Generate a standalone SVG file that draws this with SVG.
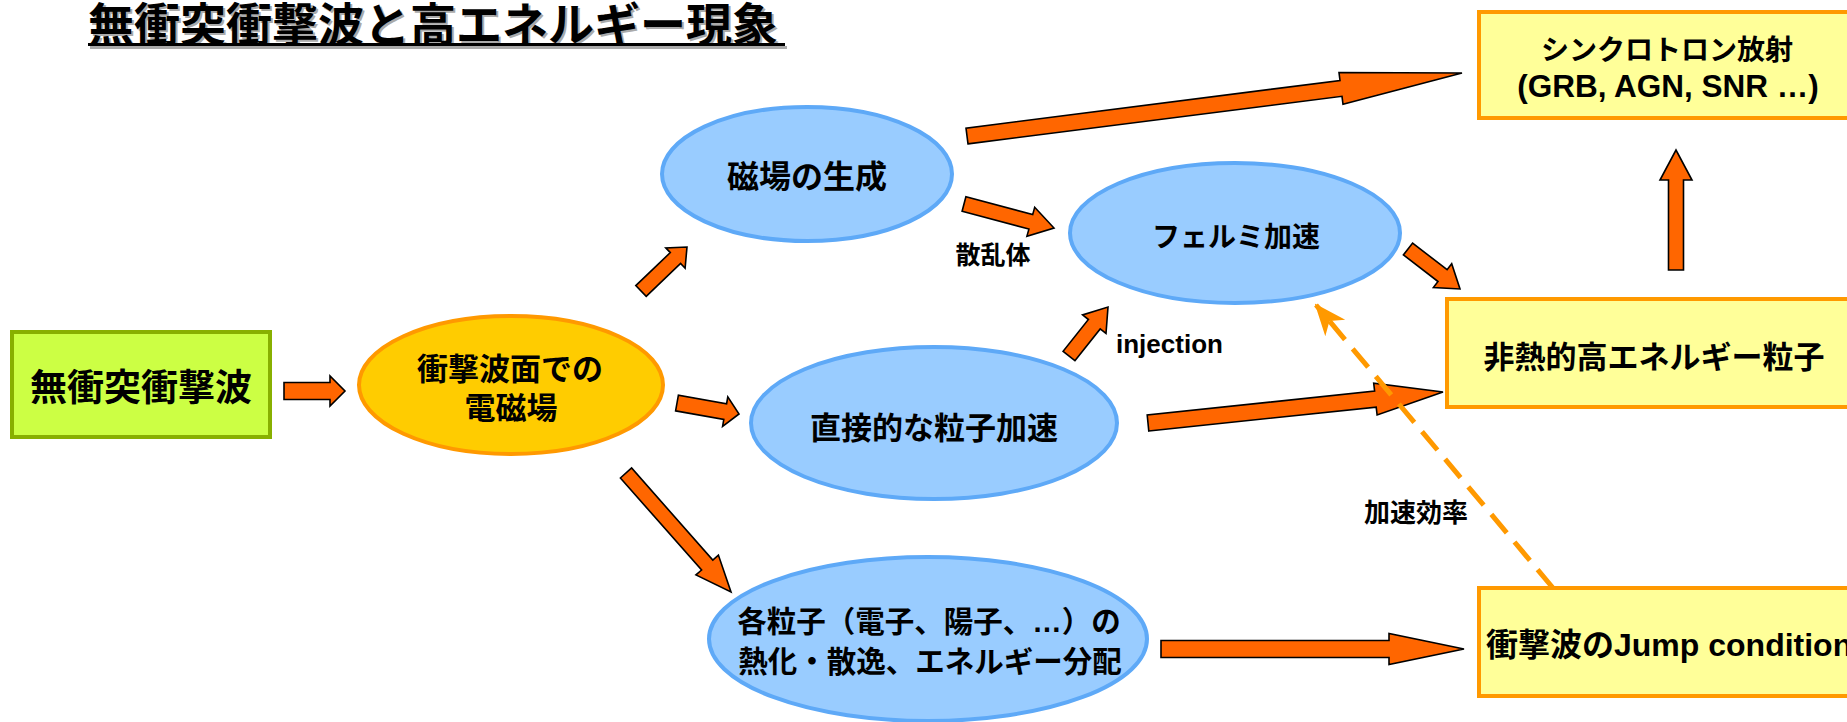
<svg xmlns="http://www.w3.org/2000/svg" width="1847" height="722" viewBox="0 0 1847 722">
<style>
.jp{font-family:"Noto Sans CJK JP","Noto Sans CJK SC",sans-serif;font-weight:bold;fill:#000}
.mx{font-family:"Liberation Sans","Noto Sans CJK JP",sans-serif;font-weight:bold;fill:#000}
.blue{fill:#99CCFF;stroke:#5EA9F7;stroke-width:4}
.ybox{fill:#FFFF99;stroke:#FF9900;stroke-width:4}
.arw{fill:#FF6600;stroke:#000;stroke-width:1.6;stroke-linejoin:miter}
.dash{fill:none;stroke:#FF9900;stroke-width:5;stroke-dasharray:24 12}
</style>
<defs>
<marker id="ah" viewBox="0 0 32 32" refX="30" refY="16" markerWidth="32" markerHeight="32" markerUnits="userSpaceOnUse" orient="auto">
<path d="M0,3 L32,16 L0,29 L9,16 Z" fill="#FF9900"/>
</marker>
</defs>
<rect width="1847" height="722" fill="#fff"/>

<g id="title">
<text x="90" y="43" class="jp" font-size="46" style="fill:#aaa">無衝突衝撃波と高エネルギー現象</text>
<text x="88" y="41" class="jp" font-size="46">無衝突衝撃波と高エネルギー現象</text>
<rect x="90" y="46" width="697" height="3" fill="#aaa"/>
<rect x="88" y="43" width="697" height="3" fill="#000"/>
</g>

<g id="connectors">
<polygon class="arw" points="284,399.5 330,399.5 330,406 345,391 330,376 330,382.5 284,382.5"/>
<polygon class="arw" points="675.6,410.9 723.8,419.4 722.6,426.3 739,414 727.8,396.8 726.6,403.7 678.4,395.1"/>
<polygon class="arw" points="646.2,296.4 680.6,263.5 685.1,268.2 687,247 665.8,247.9 670.3,252.6 635.8,285.6"/>
<polygon class="arw" points="620.4,478 701.6,570 695.9,574.9 731,592 718.4,555.1 712.8,560.1 631.6,468"/>
<polygon class="arw" points="968,143.9 1342,96.3 1343,104.3 1462,73 1339,72.5 1340,80.5 966,128.1"/>
<polygon class="arw" points="962.1,211.2 1028.9,229.1 1026.9,236.3 1054,228 1034.7,207.3 1032.7,214.6 965.9,196.8"/>
<polygon class="arw" points="1403.4,254.9 1438,281.5 1433.4,287.5 1460,289 1451.7,263.7 1447.1,269.7 1412.6,243.1"/>
<polygon class="arw" points="1074.9,360.7 1100.2,328.9 1106,333.5 1108,307 1082.6,314.9 1088.4,319.5 1063.1,351.3"/>
<polygon class="arw" points="1148.8,431 1376.2,407.1 1377.1,415 1443,392 1373.7,383.2 1374.6,391.1 1147.2,415"/>
<polygon class="arw" points="1161,657.5 1389,657.5 1389,664.5 1464,649 1389,633.5 1389,640.5 1161,640.5"/>
<polygon class="arw" points="1683.5,270 1683.5,180 1692,180 1676,150 1660,180 1668.5,180 1668.5,270"/>
<line class="dash" x1="1553" y1="588" x2="1316" y2="305" marker-end="url(#ah)"/>
<text x="993" y="264" class="jp" font-size="25" text-anchor="middle">散乱体</text>
<text x="1116" y="353" class="mx" font-size="26">injection</text>
<text x="1416" y="522" class="jp" font-size="26" text-anchor="middle">加速効率</text>
</g>

<g id="n_shock">
<rect x="12" y="332" width="258" height="105" fill="#CCFF44" stroke="#88B000" stroke-width="4"/>
<text x="141" y="401" class="jp" font-size="37" text-anchor="middle">無衝突衝撃波</text>
</g>

<g id="n_emfield">
<ellipse cx="511" cy="385" rx="152" ry="69" fill="#FFCC00" stroke="#FF9900" stroke-width="4"/>
<text x="510" y="380" class="jp" font-size="31" text-anchor="middle">衝撃波面での</text>
<text x="511" y="419" class="jp" font-size="31" text-anchor="middle">電磁場</text>
</g>

<g id="n_bfield">
<ellipse cx="807" cy="174" rx="145" ry="67" class="blue"/>
<text x="807" y="188" class="jp" font-size="32" text-anchor="middle">磁場の生成</text>
</g>

<g id="n_fermi">
<ellipse cx="1235" cy="233" rx="165" ry="70" class="blue"/>
<text x="1236" y="247" class="jp" font-size="28" text-anchor="middle">フェルミ加速</text>
</g>

<g id="n_direct">
<ellipse cx="934" cy="423" rx="183" ry="76" class="blue"/>
<text x="934" y="439" class="jp" font-size="31" text-anchor="middle">直接的な粒子加速</text>
</g>

<g id="n_thermal">
<ellipse cx="928" cy="639" rx="219" ry="82" class="blue"/>
<text x="929" y="632" class="mx" font-size="29.5" text-anchor="middle">各粒子（電子、陽子、…）の</text>
<text x="930" y="672" class="jp" font-size="29.5" text-anchor="middle">熱化・散逸、エネルギー分配</text>
</g>

<g id="n_sync">
<rect x="1479" y="12" width="376" height="106" class="ybox"/>
<text x="1667" y="60" class="jp" font-size="28" text-anchor="middle">シンクロトロン放射</text>
<text x="1668" y="97" class="mx" font-size="31.5" text-anchor="middle">(GRB, AGN, SNR …)</text>
</g>

<g id="n_nonthermal">
<rect x="1447" y="299" width="414" height="108" class="ybox"/>
<text x="1654" y="368" class="jp" font-size="31" text-anchor="middle">非熱的高エネルギー粒子</text>
</g>

<g id="n_jump">
<rect x="1479" y="588" width="400" height="108" class="ybox"/>
<text x="1486" y="656" class="mx" font-size="32">衝撃波のJump condition</text>
</g>
</svg>
